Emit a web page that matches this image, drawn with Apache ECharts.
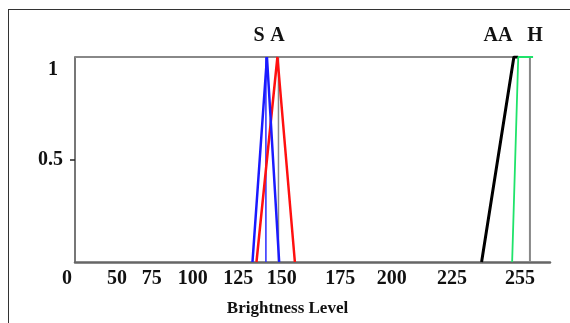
<!DOCTYPE html>
<html>
<head>
<meta charset="utf-8">
<script src="https://cdn.jsdelivr.net/npm/echarts@6/dist/echarts.min.js"></script>
<style>
  html, body { margin: 0; padding: 0; background: #fff; }
  .wrap { position: relative; width: 570px; height: 323px; overflow: hidden; }
  .frame {
    position: absolute; left: 8px; top: 9px; width: 600px; height: 400px;
    border-top: 1.5px solid #333; border-left: 1.5px solid #333;
    pointer-events: none;
  }
  #chart { position: absolute; left: 0; top: 0; width: 570px; height: 323px; }
</style>
</head>
<body>
<div class="wrap">
  <div id="chart"></div>
  <div class="frame"></div>
</div>
<script>
// tick labels of the x axis and where they sit along the axis
const tickLabels = ['0', '50', '75', '100', '125', '150', '175', '200', '225', '255']
const tickAt = [0, 24, 44, 67.5, 93.5, 118.5, 152, 181.5, 216, 255]

// membership functions (brightness, membership)
const sPoints = [[101.7, 0], [110, 1], [117, 0]]
const aPoints = [[104, 0], [116, 1], [126, 0]]
const aaPoints = [[233, 0], [251.5, 1], [254, 1]]
const hPoints = [[250.5, 0], [254, 1], [262.5, 1]]
// centre markers under the S and A peaks
const sCentre = [[109.4, 1], [109.4, 0]]
const aCentre = [[116.6, 1], [116.6, 0]]
// frame of the plot box
const boxPoints = [[0, 1], [260.7, 1], [260.7, 0]]

const serif = 'Liberation Serif'

// put the set name on one point of the curve
function withLabel (pts, idx, name) {
    return pts.map((p, i) => i !== idx ? p : {
        value: p,
        label: {
            show: true,
            formatter: name,
            position: 'top',
            distance: 11,
            fontFamily: serif,
            fontWeight: 'bold',
            fontSize: 20,
            color: '#111'
        }
    })
}

function lineSeries (data, color, width, z, dx) {
    return {
        type: 'line',
        data: data,
        showSymbol: true,
        symbol: 'circle',
        symbolSize: 0,
        silent: true,
        z: z,
        itemStyle: { color: color },
        lineStyle: { color: color, width: width },
        labelLayout: { hideOverlap: false, dx: dx || 0 }
    }
}

const chart = echarts.init(document.getElementById('chart'))
const option = {
    animation: false,
    backgroundColor: 'transparent',
    grid: { left: 75, right: 20, top: 57, bottom: 61 },
    xAxis: {
        type: 'value',
        min: 0,
        max: 272.2,
        splitLine: { show: false },
        axisTick: { show: false },
        axisLine: { show: true, lineStyle: { color: '#666', width: 2.5 } },
        name: 'Brightness Level',
        nameLocation: 'middle',
        nameGap: 38,
        nameTextStyle: {
            fontFamily: serif, fontWeight: 'bold', fontSize: 17, color: '#111',
            padding: [0, 50, 0, 0]
        },
        axisLabel: {
            customValues: tickAt,
            margin: 7,
            fontFamily: serif,
            fontWeight: 'bold',
            fontSize: 20,
            color: '#111',
            formatter: function (v) {
                const t = tickLabels[tickAt.indexOf(v)]
                return v === 0 ? '{zero|' + t + '}' : t
            },
            rich: {
                zero: { fontFamily: serif, fontWeight: 'bold', fontSize: 20, color: '#111', padding: [0, 16, 0, 0] }
            }
        }
    },
    yAxis: {
        type: 'value',
        min: 0,
        max: 1,
        splitLine: { show: false },
        axisLine: { show: true, lineStyle: { color: '#777', width: 2 } },
        axisTick: { show: true, customValues: [0.5], length: 5, lineStyle: { color: '#222', width: 1.5 } },
        axisLabel: {
            customValues: [0.5, 1],
            margin: 12,
            fontFamily: serif,
            fontWeight: 'bold',
            fontSize: 20,
            color: '#111',
            formatter: function (v) {
                return v === 1 ? '{one|1}' : String(v)
            },
            rich: {
                one: { fontFamily: serif, fontWeight: 'bold', fontSize: 20, color: '#111', padding: [26, 5, 0, 0] }
            }
        }
    },
    series: [
        lineSeries(boxPoints, '#888', 2, 1),
        lineSeries(aCentre, '#888', 1.5, 2),
        lineSeries(sCentre, '#2a2aff', 1.5, 3),
        lineSeries(withLabel(aPoints, 1, 'A'), '#ff1010', 2.5, 4, 0),
        lineSeries(withLabel(sPoints, 1, 'S'), '#1a1aff', 2.5, 5, -8),
        lineSeries(withLabel(aaPoints, 1, 'AA'), '#000', 3, 6, -16),
        lineSeries(withLabel(hPoints, 2, 'H'), '#1fe36a', 1.8, 7, 2)
    ]
}
chart.setOption(option)
</script>
</body>
</html>
